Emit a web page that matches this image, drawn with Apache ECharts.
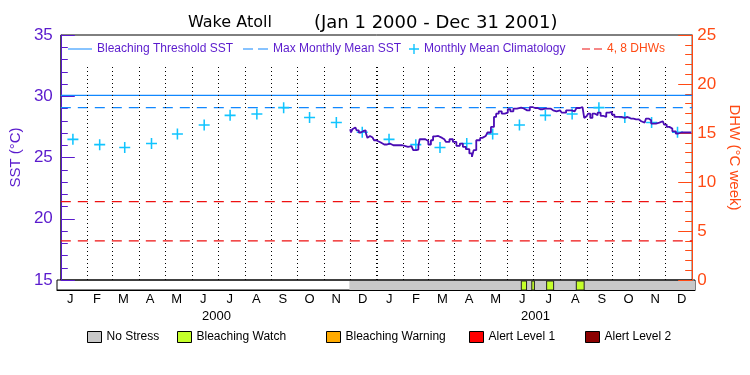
<!DOCTYPE html>
<html>
<head>
<meta charset="utf-8">
<script src="https://cdn.jsdelivr.net/npm/echarts@6/dist/echarts.min.js"></script>
<style>
  html, body { margin: 0; padding: 0; background: #fff; }
  #chart { width: 750px; height: 375px; }
</style>
</head>
<body>
<div id="chart"></div>
<script>
// Wake Atoll - SST / DHW (Jan 1 2000 - Dec 31 2001)
const xMin = "2000-01-01";
const xMax = "2002-01-01";

const monthLabels = ["J","F","M","A","M","J","J","A","S","O","N","D","J","F","M","A","M","J","J","A","S","O","N","D"];
const yearLabels = ["2000", "2001"];
const years = [2000, 2001];

// SST nocturna (lecturas del grafico)
const sstDates = ["2000-12-01","2000-12-03","2000-12-04","2000-12-07","2000-12-10","2000-12-12","2000-12-15","2000-12-18","2000-12-20","2000-12-22",
  "2000-12-24","2000-12-27","2000-12-30","2001-01-01","2001-01-04","2001-01-07","2001-01-12","2001-01-16","2001-01-20","2001-01-28",
  "2001-02-02","2001-02-06","2001-02-10","2001-02-14","2001-02-17","2001-02-19","2001-02-20","2001-02-26","2001-02-28","2001-03-03",
  "2001-03-06","2001-03-08","2001-03-11","2001-03-15","2001-03-20","2001-03-24","2001-03-28","2001-04-01","2001-04-05","2001-04-09",
  "2001-04-12","2001-04-16","2001-04-20","2001-04-22","2001-04-24","2001-04-28","2001-05-03","2001-05-07","2001-05-11","2001-05-15",
  "2001-05-18","2001-05-20","2001-05-24","2001-05-27","2001-05-31","2001-06-03","2001-06-06","2001-06-10","2001-06-14","2001-06-20",
  "2001-06-24","2001-06-30","2001-07-03","2001-07-09","2001-07-15","2001-07-21","2001-07-24","2001-07-28","2001-08-01","2001-08-05",
  "2001-08-11","2001-08-14","2001-08-18","2001-08-22","2001-08-26","2001-08-28","2001-08-30","2001-09-01","2001-09-04","2001-09-06",
  "2001-09-09","2001-09-12","2001-09-15","2001-09-19","2001-09-22","2001-09-25","2001-09-29","2001-10-01","2001-10-05","2001-10-11",
  "2001-10-15","2001-10-18","2001-10-22","2001-10-28","2001-11-03","2001-11-07","2001-11-10","2001-11-13","2001-11-16","2001-11-24",
  "2001-11-28","2001-12-01","2001-12-04","2001-12-07","2001-12-11","2001-12-15","2001-12-17","2001-12-22","2001-12-31"];
const sstValues = [27.31,27.04,27.3,27.45,27.22,27.04,27.17,27.22,27.04,26.6,
  26.76,26.63,26.41,26.33,26.22,26.06,26.06,26.14,26.0,26.0,
  25.95,25.87,25.92,25.6,25.65,25.95,26.49,26.49,26.35,26.06,
  26.41,26.73,26.76,26.6,26.49,26.27,26.49,26.27,25.95,26.14,
  25.87,25.68,25.33,25.05,25.6,26.41,26.6,26.76,27.04,27.5,
  28.31,28.58,28.77,28.58,28.66,28.94,28.77,28.99,29.07,29.0,
  28.85,29.12,29.04,28.94,28.99,28.99,28.85,28.77,28.85,28.66,
  28.85,28.85,28.77,29.04,29.12,29.04,28.23,28.39,28.58,28.23,
  28.58,28.45,28.66,28.39,28.31,28.66,28.72,28.5,28.31,28.31,
  28.23,28.31,28.18,28.12,27.96,27.85,28.18,28.04,27.77,27.85,
  27.96,27.69,27.5,27.36,27.14,26.96,27.04,27.04,27.04];

// Climatologia mensual (Ene..Dic)
const climValues = [26.48, 26.05, 25.82, 26.14, 26.92, 27.65, 28.44, 28.55, 29.07, 28.27, 27.86, 27.06];
const mmm = 29.07;
const bleachThreshold = 30.07;
const dhwLevels = [4, 8];

// Periodos de estres (barra inferior)
const noStress = [["2000-12-01", "2002-01-01"]];
const bleachingWatch = [["2001-06-16","2001-06-22"],["2001-06-28","2001-07-01"],["2001-07-15","2001-07-23"],["2001-08-18","2001-08-27"]];
const bleachingWarning = [];
const alertLevel1 = [];
const alertLevel2 = [];

const PURPLE = "#5a1acd";
const ORANGE = "#ff4a14";
const BLUE = "#1188ff";
const CYAN = "#10c4ff";
const RED = "#ee1111";
const FONT = "Liberation Sans";

const pad = n => (n < 10 ? "0" + n : "" + n);

// datos armados
const sstData = sstDates.map((d, i) => [d, sstValues[i]]);
const climData = [];
years.forEach(y => climValues.forEach((v, m) => climData.push([`${y}-${pad(m + 1)}-15`, v])));
const flat = v => [[xMin, v], [xMax, v]];
const dhwData = [];
dhwLevels.forEach((v, i) => {
  if (i > 0) dhwData.push([xMax, "-"]);
  dhwData.push(...flat(v));
});

// lineas punteadas en el inicio de cada mes
const monthLines = [];
years.forEach(y => {
  for (let m = 1; m <= 12; m++) {
    if (y === 2000 && m === 1) continue;
    const d = `${y}-${pad(m)}-01`;
    monthLines.push([
      { coord: [d, 15], lineStyle: { width: m === 1 ? 2 : 1 } },
      { coord: [d, 32.6] }
    ]);
  }
});

const plusIcon = "path://M4.3,0h1.4v4.3h4.3v1.4h-4.3v4.3h-1.4v-4.3h-4.3v-1.4h4.3z";
const solidIcon = "path://M0,0H24V1H0Z";
const dashIcon = "path://M0,0H10V1H0Z M15,0H25V1H15Z";
const redDashIcon = "path://M0,0H8V1H0Z M12,0H20V1H12Z";

function stressSeries(name, data, color, stroke) {
  return {
    name, type: "custom", xAxisIndex: 2, yAxisIndex: 2,
    dimensions: [{ name: "start", type: "time" }, { name: "end", type: "time" }],
    encode: { x: [0, 1] },
    itemStyle: { color, borderColor: "#000", borderWidth: 1 },
    renderItem: (params, api) => {
      const p0 = api.coord([api.value(0), 1]);
      const p1 = api.coord([api.value(1), 0]);
      return {
        type: "rect",
        shape: { x: p0[0], y: p0[1] + 1, width: p1[0] - p0[0], height: p1[1] - p0[1] - 1 },
        style: { fill: color, stroke: stroke ? "#222" : null, lineWidth: stroke ? 1 : 0 }
      };
    },
    data,
    silent: true
  };
}

function bottomLegend(name, left) {
  return {
    left, top: 331, padding: 0, itemWidth: 14, itemHeight: 11, icon: "rect",
    itemStyle: { borderColor: "#000", borderWidth: 1 },
    textStyle: { color: "#000", fontFamily: FONT, fontSize: 12 },
    selectedMode: false,
    data: [name]
  };
}

function refLine(name, data, color, type, yAxisIndex, xAxisIndex) {
  return {
    name, type: "line", data, xAxisIndex, yAxisIndex,
    showSymbol: false, symbol: "none", connectNulls: false, silent: true,
    itemStyle: { color },
    lineStyle: { color, width: 1.2, type }
  };
}

const chart = echarts.init(document.getElementById("chart"));
const option = {
  animation: false,
  backgroundColor: "#fff",
  title: [
    { text: "Wake Atoll", left: 183, top: 10, textStyle: { fontFamily: "DejaVu Sans", fontSize: 16, fontWeight: "normal", color: "#000" } },
    { text: "(Jan 1 2000 - Dec 31 2001)", left: 309, top: 9, textStyle: { fontFamily: "DejaVu Sans", fontSize: 18, fontWeight: "normal", color: "#000" } }
  ],
  legend: [
    { left: 68, top: 43, padding: 0, itemWidth: 24, itemHeight: 1, selectedMode: false,
      textStyle: { color: PURPLE, fontFamily: FONT, fontSize: 12 },
      data: [{ name: "Bleaching Threshold SST", icon: solidIcon, itemStyle: { color: BLUE } }] },
    { left: 243, top: 43, padding: 0, itemWidth: 25, itemHeight: 1, selectedMode: false,
      textStyle: { color: PURPLE, fontFamily: FONT, fontSize: 12 },
      data: [{ name: "Max Monthly Mean SST", icon: dashIcon, itemStyle: { color: BLUE } }] },
    { left: 409, top: 43, padding: 0, itemWidth: 10, itemHeight: 10, selectedMode: false,
      textStyle: { color: PURPLE, fontFamily: FONT, fontSize: 12 },
      data: [{ name: "Monthly Mean Climatology", icon: plusIcon, itemStyle: { color: CYAN } }] },
    { left: 582, top: 43, padding: 0, itemWidth: 20, itemHeight: 1, selectedMode: false,
      textStyle: { color: ORANGE, fontFamily: FONT, fontSize: 12 },
      data: [{ name: "4, 8 DHWs", icon: redDashIcon, itemStyle: { color: RED } }] },
    bottomLegend("No Stress", 87),
    bottomLegend("Bleaching Watch", 177),
    bottomLegend("Bleaching Warning", 326),
    bottomLegend("Alert Level 1", 469),
    bottomLegend("Alert Level 2", 585)
  ],
  grid: [
    { left: 57, right: 55, top: 35, bottom: 95, show: true, borderColor: "#000", borderWidth: 1 },
    { left: 57, right: 55, top: 280, height: 10, show: true, borderColor: "#000", borderWidth: 1 }
  ],
  xAxis: [
    { type: "time", gridIndex: 0, min: xMin, max: xMax, show: false },
    { type: "time", gridIndex: 0, min: xMin, max: xMax, show: false },
    { type: "time", gridIndex: 1, min: xMin, max: xMax, show: false },
    { type: "category", gridIndex: 1, data: monthLabels, position: "bottom",
      axisLine: { show: true, lineStyle: { color: "#000" } }, axisTick: { show: false },
      axisLabel: { interval: 0, margin: 3, color: "#000", fontFamily: FONT, fontSize: 13 } },
    { type: "category", gridIndex: 1, data: yearLabels, position: "bottom", offset: 16,
      axisLine: { show: false }, axisTick: { show: false },
      axisLabel: { interval: 0, margin: 4, color: "#000", fontFamily: FONT, fontSize: 13 } }
  ],
  yAxis: [
    { type: "value", gridIndex: 0, min: 15, max: 35, interval: 5, position: "left",
      name: "SST (°C)", nameLocation: "middle", nameGap: 29,
      nameTextStyle: { color: PURPLE, fontFamily: FONT, fontSize: 15 },
      axisLine: { show: true, lineStyle: { color: PURPLE } },
      axisTick: { show: true, inside: true, length: 14, lineStyle: { color: PURPLE } },
      minorTick: { show: true, splitNumber: 5, length: 7, lineStyle: { color: PURPLE } },
      axisLabel: { color: PURPLE, fontFamily: FONT, fontSize: 17, margin: 8 },
      splitLine: { show: false }, minorSplitLine: { show: false } },
    { type: "value", gridIndex: 0, min: 0, max: 25, interval: 5, position: "right",
      name: "DHW (°C week)", nameLocation: "middle", nameGap: 24, nameRotate: -90,
      nameTextStyle: { color: ORANGE, fontFamily: FONT, fontSize: 15 },
      axisLine: { show: true, lineStyle: { color: ORANGE } },
      axisTick: { show: true, inside: true, length: 14, lineStyle: { color: ORANGE } },
      minorTick: { show: true, splitNumber: 5, length: 7, lineStyle: { color: ORANGE } },
      axisLabel: { color: ORANGE, fontFamily: FONT, fontSize: 17, margin: 5 },
      splitLine: { show: false }, minorSplitLine: { show: false } },
    { type: "value", gridIndex: 1, min: 0, max: 1, show: false }
  ],
  series: [
    refLine("Bleaching Threshold SST", flat(bleachThreshold), BLUE, "solid", 0, 0),
    refLine("Max Monthly Mean SST", flat(mmm), BLUE, [10, 7], 0, 0),
    refLine("4, 8 DHWs", dhwData, RED, [10, 7], 1, 1),
    {
      name: "Monthly Mean Climatology", type: "scatter", xAxisIndex: 0, yAxisIndex: 0,
      symbol: plusIcon, symbolSize: 11,
      itemStyle: { color: CYAN, opacity: 1 },
      data: climData, z: 4, silent: true,
      markLine: { silent: true, symbol: "none", label: { show: false },
        lineStyle: { color: "#000", width: 1, type: [1, 3] },
        data: monthLines }
    },
    {
      name: "SST", type: "line", xAxisIndex: 0, yAxisIndex: 0,
      data: sstData, step: "middle", showSymbol: false, symbol: "none",
      lineStyle: { color: "#4a0cb4", width: 1.8 }, z: 5, silent: true
    },
    stressSeries("No Stress", noStress, "#c8c8c8", false),
    stressSeries("Bleaching Watch", bleachingWatch, "#c4ff2a", true),
    stressSeries("Bleaching Warning", bleachingWarning, "#ffaa00", true),
    stressSeries("Alert Level 1", alertLevel1, "#ff0000", true),
    stressSeries("Alert Level 2", alertLevel2, "#8b0000", true)
  ]
};
chart.setOption(option);
</script>
</body>
</html>
